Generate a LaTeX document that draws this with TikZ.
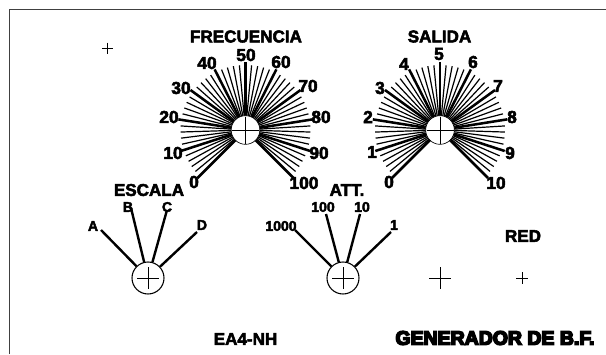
\documentclass[tikz,border=0pt]{standalone}
\usepackage{fontspec}
\setmainfont{Liberation Sans}
\newfontfamily\heavy[FakeBold=3]{Liberation Sans Bold}
\newfontfamily\heavier[FakeBold=8]{Liberation Sans Bold}
\tikzset{x=0.75pt,y=-0.75pt,
 minortick/.style={line width=0.9pt,black},
 majortick/.style={line width=1.9pt,black},
 pointer/.style={line width=1.8pt,black},
 crossmark/.style={line width=0.7pt,black},
 knob/.style={circle,draw=black,fill=white,line width=0.8pt,inner sep=0pt,minimum size=24pt},
 bigknob/.style={circle,fill=white,draw=black,line width=0.5pt,inner sep=0pt,minimum size=21.5pt},
 lab/.style={inner sep=0pt,font=\heavy\fontsize{13pt}{14pt}\selectfont,text=black},
 smalllab/.style={lab,font=\heavy\fontsize{10.5pt}{11pt}\selectfont},
 heading/.style={lab,font=\heavy\fontsize{12.8pt}{14pt}\selectfont},
 bigtitle/.style={lab,font=\heavier\fontsize{14.6pt}{15pt}\selectfont},
}
\begin{document}
\begin{tikzpicture}
\useasboundingbox (0,0) rectangle (606,354);
\fill[white] (0,0) rectangle (606,354);
\coordinate (tl) at (9.5,9.5);
\coordinate (tr) at (606,9.5);
\coordinate (bl) at (9.5,354);
\draw[line width=0.8pt,black!75] (bl) -- (tl) -- (tr);
% dial 1
\coordinate (f) at (245.5,130);
\foreach \i in {0,...,50}{
  \pgfmathsetmacro\a{225-\i*5.4}
  \pgfmathtruncatemacro\m{mod(\i,5)}
  \ifnum\m=0 \draw[majortick] (f) -- ++({cos(\a)*68},{-sin(\a)*68});
  \else \draw[minortick] (f) -- ++({cos(\a)*65},{-sin(\a)*65}); \fi
}
\node[bigknob] (fk) at (f) {};
\draw[crossmark] (232,130)--(259,130) (245.5,116.5)--(245.5,143.5);
\node[heading] (ft) at (246,36.5) {FRECUENCIA};
\node[lab] (f0) at (194,182) {0};
\node[lab] (f10) at (173,153) {10};
\node[lab] (f20) at (169,117) {20};
\node[lab] (f30) at (181,88) {30};
\node[lab] (f40) at (207,63) {40};
\node[lab] (f50) at (246,55) {50};
\node[lab] (f60) at (281,62) {60};
\node[lab] (f70) at (308,86) {70};
\node[lab] (f80) at (321,117) {80};
\node[lab] (f90) at (319,153) {90};
\node[lab] (f100) at (304,183) {100};
% dial 2
\coordinate (s) at (440,130);
\foreach \i in {0,...,50}{
  \pgfmathsetmacro\a{225-\i*5.4}
  \pgfmathtruncatemacro\m{mod(\i,5)}
  \ifnum\m=0 \draw[majortick] (s) -- ++({cos(\a)*68},{-sin(\a)*68});
  \else \draw[minortick] (s) -- ++({cos(\a)*65},{-sin(\a)*65}); \fi
}
\node[bigknob] (sk) at (s) {};
\draw[crossmark] (426.5,130)--(453.5,130) (440,116.5)--(440,143.5);
\node[heading] (st) at (439.5,36.5) {SALIDA};
\node[lab] (s0) at (389,182) {0};
\node[lab] (s1) at (372,152) {1};
\node[lab] (s2) at (368,117) {2};
\node[lab] (s3) at (380,88) {3};
\node[lab] (s4) at (404,64) {4};
\node[lab] (s5) at (439,54) {5};
\node[lab] (s6) at (473,62) {6};
\node[lab] (s7) at (498,86) {7};
\node[lab] (s8) at (512,117) {8};
\node[lab] (s9) at (510,153) {9};
\node[lab] (s10) at (496,183) {10};
% selector 1
\node[knob] (ek) at (148,278) {};
\draw[crossmark] (137,278)--(159,278) (148,267)--(148,289);
\coordinate (ea) at (101,230);
\coordinate (eb) at (131,208);
\coordinate (ec) at (167,210);
\coordinate (ed) at (197,232);
\foreach \c in {ea,eb,ec,ed}{\draw[pointer] (ek) -- (\c);}
\node[heading] (et) at (149,190) {ESCALA};
\node[smalllab] (la) at (93,226) {A};
\node[smalllab] (lb) at (128,207) {B};
\node[smalllab] (lc) at (167,207) {C};
\node[smalllab] (ld) at (202,225) {D};
% selector 2
\node[knob] (ak) at (343,278) {};
\draw[crossmark] (332,278)--(354,278) (343,267)--(343,289);
\coordinate (a1) at (295,230);
\coordinate (a2) at (326,214);
\coordinate (a3) at (360,214);
\coordinate (a4) at (391,232);
\foreach \c in {a1,a2,a3,a4}{\draw[pointer] (ak) -- (\c);}
\node[heading] (at) at (347,190) {ATT.};
\node[smalllab] (l1000) at (281,226) {1000};
\node[smalllab] (l100) at (323,207) {100};
\node[smalllab] (l10) at (362,207) {10};
\node[smalllab] (l1) at (394,225) {1};
% free crosses
\draw[crossmark] (102,48)--(113,48) (107.5,42.5)--(107.5,53.5);
\draw[crossmark] (429,278)--(451,278) (440,267)--(440,289);
\draw[crossmark] (516,278)--(528,278) (522,272)--(522,284);
\node[heading] (red) at (523,236) {RED};
\node[heading] (ea4) at (245.5,339) {EA4-NH};
\node[bigtitle] (gen) at (495,338) {GENERADOR DE B.F.};
\end{tikzpicture}
\end{document}
